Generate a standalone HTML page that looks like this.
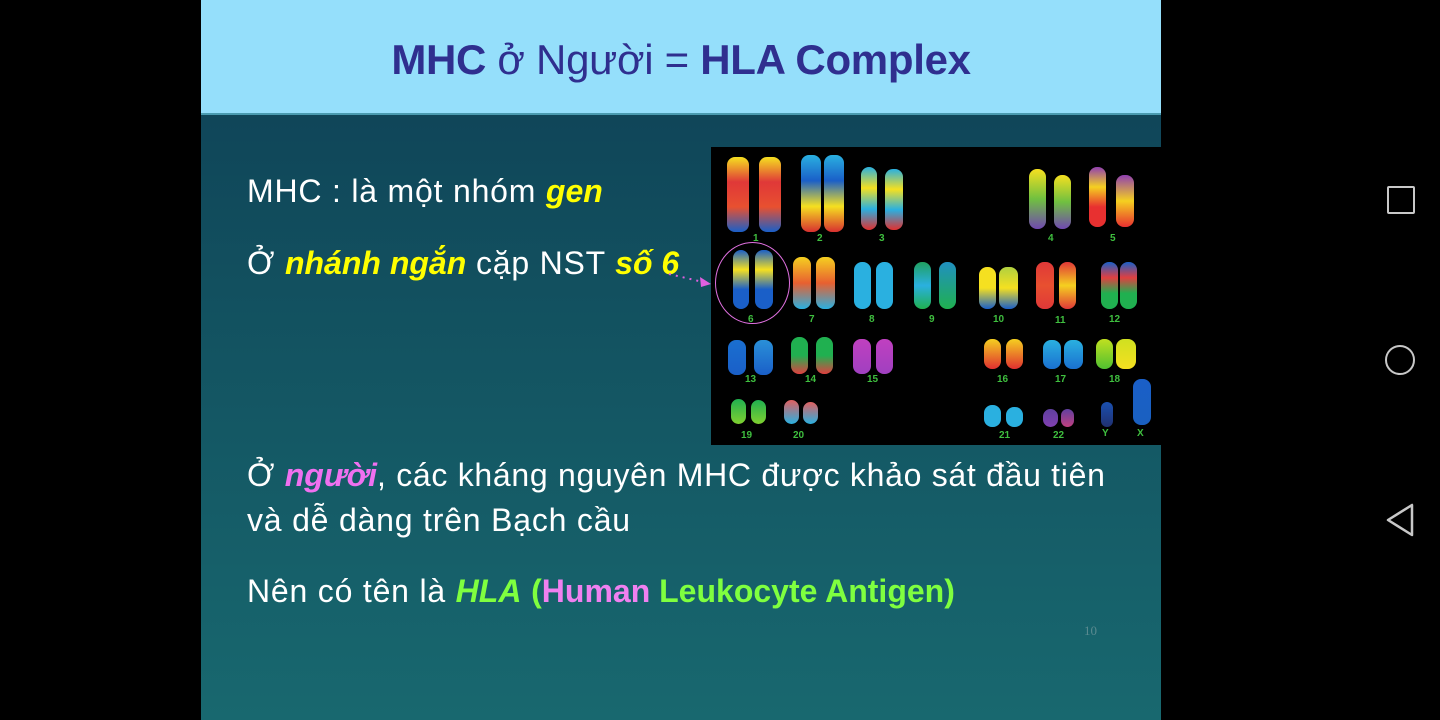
<!DOCTYPE html>
<html><head><meta charset="utf-8">
<style>
*{margin:0;padding:0;box-sizing:border-box}
body{width:1440px;height:720px;background:#000;position:relative;overflow:hidden;font-family:"Liberation Sans","Noto Sans CJK SC",sans-serif}
#slide{position:absolute;left:201px;top:0;width:960px;height:720px;background:linear-gradient(#0e3f55 0%,#12505f 40%,#18686f 100%)}
#header{position:absolute;left:0;top:0;width:960px;height:115px;background:#95dffb;border-bottom:2px solid #4a9bb0}
#title{position:absolute;left:0;width:960px;top:36px;text-align:center;font-size:42px;color:#2f2f8f;letter-spacing:-0.3px}
.t{position:absolute;left:46px;color:#fff;font-size:32px;line-height:37px;white-space:nowrap;letter-spacing:0.8px}
.y{color:#ffff00;font-weight:bold;font-style:italic;letter-spacing:0}
.b{letter-spacing:0}
#img{position:absolute;left:510px;top:147px;width:450px;height:298px;background:#000}
.c{position:absolute;border-radius:8px}
.l{position:absolute;color:#3fbf3f;font-size:10px;font-weight:bold;font-family:"Liberation Sans",sans-serif}
.nav{position:absolute;border:2.5px solid #c8c8c8}
</style></head><body>
<div id="slide">
 <div id="header">
  <div id="title"><b>MHC</b> ở Người = <b>HLA Complex</b></div>
 </div>
 <div class="t" style="top:173px">MHC : là một nhóm <span class="y">gen</span></div>
 <div class="t" style="top:245px">Ở <span class="y">nhánh ngắn</span> cặp NST <span class="y">số 6</span></div>
 <svg style="position:absolute;left:466px;top:266px" width="46" height="24">
  <line x1="2" y1="8" x2="36" y2="16" stroke="#e060e0" stroke-width="2" stroke-dasharray="2 5"/>
  <polygon points="44,18 33,11 34,21" fill="#e060e0"/>
 </svg>
 <div class="t" style="top:457px;letter-spacing:0.7px">Ở <span style="color:#f070f0;font-weight:bold;font-style:italic;letter-spacing:0">người</span>, các kháng nguyên MHC được khảo sát đầu tiên</div>
 <div class="t" style="top:502px">và dễ dàng trên Bạch cầu</div>
 <div class="t" style="top:573px">Nên có tên là <span style="color:#7fff3f;font-weight:bold;font-style:italic;letter-spacing:0">HLA</span> <b class="b" style="color:#7fff3f">(</b><b class="b" style="color:#f080f0">Human </b><b class="b" style="color:#7fff3f">Leukocyte Antigen)</b></div>
 <div style="position:absolute;left:883px;top:623px;font-family:'Liberation Serif',serif;font-size:13px;color:#5a8a90">10</div>
 <div id="img"></div>
</div>
<div class="nav" style="left:1387px;top:186px;width:28px;height:28px;border-radius:2px"></div>
<div class="nav" style="left:1385px;top:345px;width:30px;height:30px;border-radius:50%"></div>
<svg style="position:absolute;left:1384px;top:502px" width="34" height="36"><polygon points="28,3 28,33 4,18" fill="none" stroke="#c8c8c8" stroke-width="2.5" stroke-linejoin="round"/></svg>
<script>
const chromosomes=[
 ["1",16,10,22,75,["#f5e020","#e03838","#e85030","#1a5fc8"]],["1",48,10,22,75,["#f5e020","#e03838","#e85030","#1a5fc8"]],
 ["2",90,8,20,77,["#2ab0e0","#1a5fc8","#f5e020","#d83030"]],["2",113,8,20,77,["#2ab0e0","#1a5fc8","#f5e020","#d83030"]],
 ["3",150,20,16,63,["#2ab0e0","#f5e020","#2ab0e0","#e03030"]],["3",174,22,18,61,["#2ab0e0","#f5e020","#2ab0e0","#e03030"]],
 ["4",318,22,17,60,["#f5e020","#70c040","#7048b0"]],["4",343,28,17,54,["#f5e020","#70c040","#7048b0"]],
 ["5",378,20,17,60,["#9040b0","#f5d020","#e83030","#e83030"]],["5",405,28,18,52,["#9040b0","#f5d020","#e83030"]],
 ["6",22,103,16,59,["#1a5fc8","#f5e020","#1a5fc8","#1a5fc8"]],["6",44,103,18,59,["#1a5fc8","#f5e020","#1a5fc8","#1a5fc8"]],
 ["7",82,110,18,52,["#f5d020","#e86030","#2ab0e0"]],["7",105,110,19,52,["#f5d020","#e86030","#2ab0e0"]],
 ["8",143,115,17,47,["#2ab0e0","#2ab0e0"]],["8",165,115,17,47,["#2ab0e0","#2ab0e0"]],
 ["9",203,115,17,47,["#20a060","#2ab0e0","#20b050"]],["9",228,115,17,47,["#2090c0","#20b050"]],
 ["10",268,120,17,42,["#f5e020","#f5e020","#1a5fc8"]],["10",288,120,19,42,["#b0d040","#f5e020","#1a5fc8"]],
 ["11",325,115,18,47,["#e03838","#e85030","#e03838"]],["11",348,115,17,47,["#e03838","#f5d020","#e03838"]],
 ["12",390,115,17,47,["#1a5fc8","#e04040","#20b050","#20b050"]],["12",409,115,17,47,["#1a5fc8","#e04040","#20b050","#20b050"]],
 ["13",17,193,18,35,["#1a6fd0","#1a5fc8"]],["13",43,193,19,35,["#2a90d8","#1a5fc8"]],
 ["14",80,190,17,37,["#20b050","#20b050","#e04040"]],["14",105,190,17,37,["#20b050","#20b050","#e04040"]],
 ["15",142,192,18,35,["#c040c0","#a040c0"]],["15",165,192,17,35,["#c040c0","#a040c0"]],
 ["16",273,192,17,30,["#f5d020","#e03030"]],["16",295,192,17,30,["#f5d020","#e03030"]],
 ["17",332,193,18,29,["#2ab0e0","#1a70d0"]],["17",353,193,19,29,["#2ab0e0","#1a70d0"]],
 ["18",385,192,17,30,["#c0e020","#50c030"]],["18",405,192,20,30,["#d0e020","#f5e020"]],
 ["19",20,252,15,25,["#20b050","#80d030"]],["19",40,253,15,24,["#20b050","#80d030"]],
 ["20",73,253,15,24,["#e06060","#2ab0e0"]],["20",92,255,15,22,["#e06060","#2ab0e0"]],
 ["21",273,258,17,22,["#2ab0e0","#2ab0e0"]],["21",295,260,17,20,["#2ab0e0","#2ab0e0"]],
 ["22",332,262,15,18,["#6040a0","#8040b0"]],["22",350,262,13,18,["#6040a0","#c04080"]],
 ["Y",390,255,12,25,["#1a50b0","#203070"]],["X",422,232,18,46,["#1a5fc8","#1a60c0"]]
];
const labels=[["1",42,86],["2",106,86],["3",168,86],["4",337,86],["5",399,86],["6",37,167],["7",98,167],["8",158,167],["9",218,167],["10",282,167],["11",344,168],["12",398,167],["13",34,227],["14",94,227],["15",156,227],["16",286,227],["17",344,227],["18",398,227],["19",30,283],["20",82,283],["21",288,283],["22",342,283],["Y",391,281],["X",426,281]];
const img=document.getElementById('img');
chromosomes.forEach(c=>{
 const d=document.createElement('div');
 
 
 d.className='c';
 d.style.left=c[1]+'px';d.style.top=c[2]+'px';d.style.width=c[3]+'px';d.style.height=c[4]+'px';
 d.style.background='linear-gradient('+c[5].join(',')+')';
 img.appendChild(d);
});
labels.forEach(l=>{
 const d=document.createElement('div');
 
 
 d.className='l';d.textContent=l[0];
 d.style.left=l[1]+'px';d.style.top=l[2]+'px';
 img.appendChild(d);
});
const ring=document.createElement('div');


ring.style.cssText='position:absolute;left:4px;top:95px;width:75px;height:82px;border:1.5px solid #e070e0;border-radius:50%';
img.appendChild(ring);
</script>
</body></html>
